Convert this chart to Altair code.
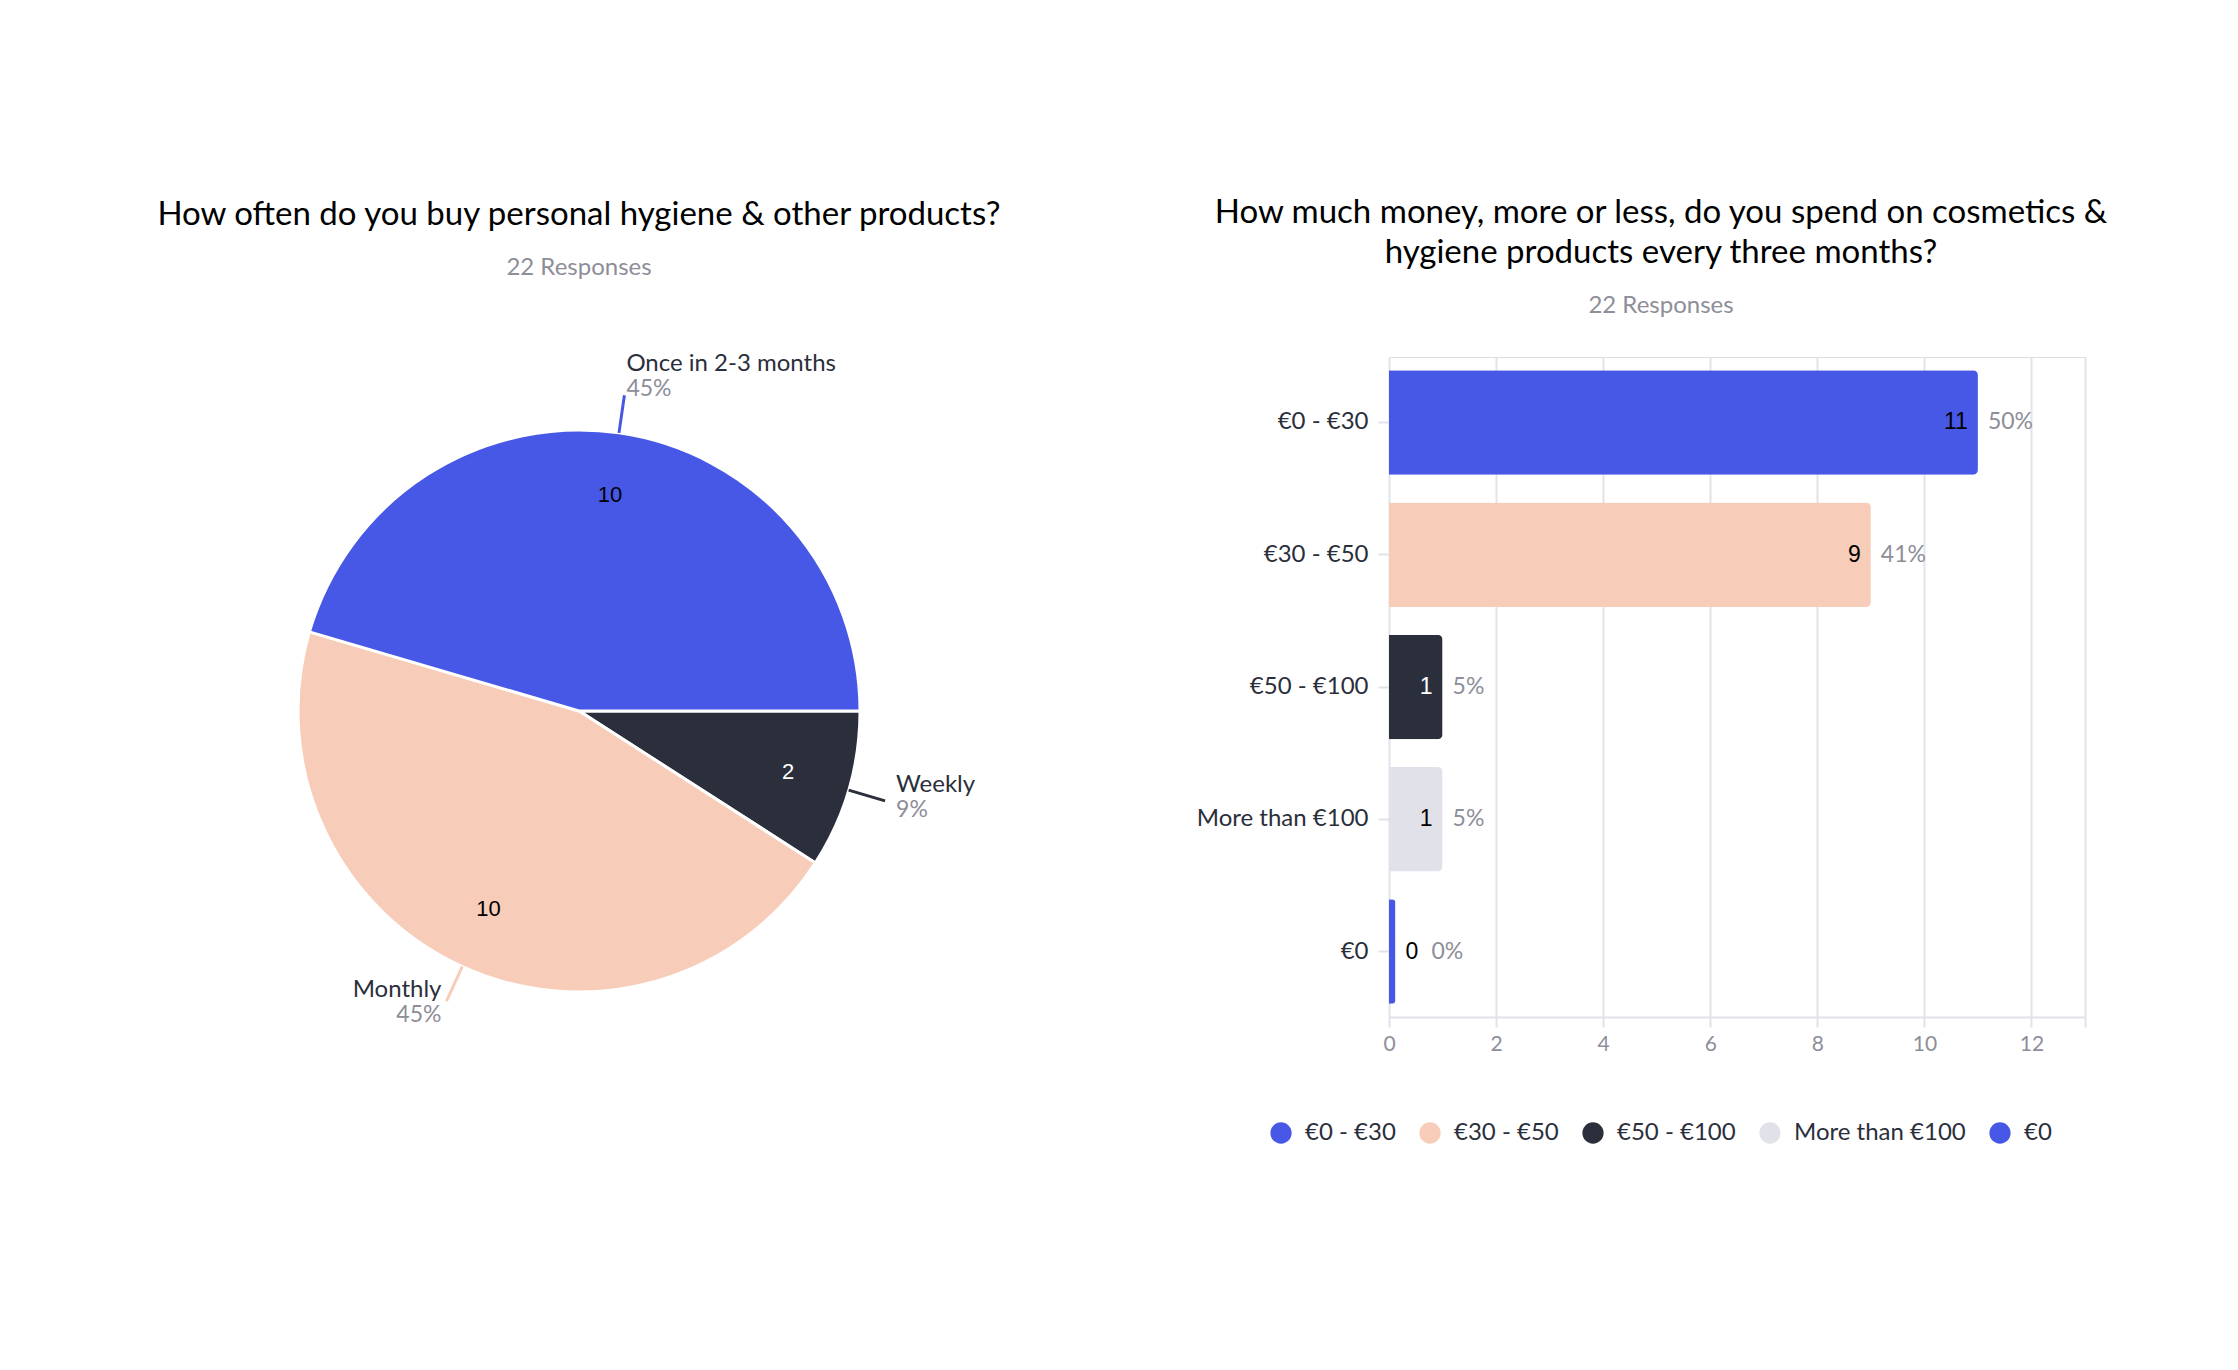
import math
import altair as alt
import pandas as pd

# ---------------- data ----------------
freq_labels = ["Weekly", "Monthly", "Once in 2-3 months"]
freq_counts = [2, 10, 10]
freq_order = [0, 1, 2]
freq_colors = ["#2a2f3b", "#f7cdb9", "#4858e6"]

spend_labels = ["€0 - €30", "€30 - €50", "€50 - €100", "More than €100", "€0"]
spend_counts = [11, 9, 1, 1, 0]
spend_colors = ["#4858e6", "#f7cdb9", "#2a2f3b", "#e1e1ea", "#4858e6"]

x_tick_values = [0, 2, 4, 6, 8, 10, 12, 13]

pie_title = "How often do you buy personal hygiene & other products?"
bar_title = ["How much money, more or less, do you spend on cosmetics &",
             "hygiene products every three months?"]
subtitle = "22 Responses"

FONT = "Lato"
NUMFONT = "Liberation Sans"
DARK = "#2a2f3b"
GREY = "#8e8e99"
LS = 24  # label font size

title_style = dict(font=FONT, fontSize=33, fontWeight="normal", color="#000000",
                   lineHeight=40, anchor="middle", subtitleFont=FONT,
                   subtitleFontSize=24, subtitleColor=GREY, subtitleFontWeight="normal",
                   subtitlePadding=24)

# ---------------- pie ----------------
R = 281
pie_df = pd.DataFrame({"answer": freq_labels, "count": freq_counts, "order": freq_order})

pbase = alt.Chart(pie_df).transform_joinaggregate(
    total="sum(count)"
).transform_calculate(
    pct="round(datum.count / datum.total * 100) + '%'"
)
theta_scale = alt.Scale(range=[math.pi / 2, math.pi / 2 + 2 * math.pi])
pcolor_scale = alt.Scale(domain=freq_labels, range=freq_colors)

arcs = pbase.mark_arc(outerRadius=R, stroke="white", strokeWidth=3).encode(
    theta=alt.Theta("count:Q", stack=True, scale=theta_scale),
    order=alt.Order("order:Q"),
    color=alt.Color("answer:N", scale=pcolor_scale, legend=None),
)

inner = pbase.mark_text(radius=218, fontSize=22, font=NUMFONT, baseline="middle").encode(
    theta=alt.Theta("count:Q", stack=True, scale=theta_scale),
    order=alt.Order("order:Q"),
    text="count:Q",
    color=alt.condition("datum.answer == 'Weekly'", alt.value("white"), alt.value("black")),
)

mids = pbase.transform_window(
    cum="sum(count)", sort=[alt.SortField("order")], frame=[None, 0]
).transform_calculate(mid="datum.cum - datum.count / 2")

leaders = mids.mark_arc(innerRadius=R, outerRadius=R + 38, filled=False, strokeWidth=3).encode(
    theta=alt.Theta("mid:Q", stack=False, scale=theta_scale),
    theta2="mid:Q",
    stroke=alt.Stroke("answer:N", scale=pcolor_scale, legend=None),
)

label_style = {
    "Once in 2-3 months": ("left", 2, -31, -6),
    "Weekly": ("left", 11, -16, 9),
    "Monthly": ("right", -5, -11, 14),
}
label_layers = []
for name, (al, dx, dy_name, dy_pct) in label_style.items():
    sel = mids.transform_filter(alt.datum.answer == name)
    label_layers.append(
        sel.mark_text(radius=R + 38, align=al, dx=dx, dy=dy_name, fontSize=LS,
                      font=FONT, color=DARK, baseline="middle").encode(
            theta=alt.Theta("mid:Q", stack=False, scale=theta_scale), text="answer:N")
    )
    label_layers.append(
        sel.mark_text(radius=R + 38, align=al, dx=dx, dy=dy_pct, fontSize=LS - 1,
                      font=FONT, color=GREY, baseline="middle").encode(
            theta=alt.Theta("mid:Q", stack=False, scale=theta_scale), text="pct:N")
    )

pie = alt.layer(arcs, inner, leaders, *label_layers).properties(
    width=1132, height=708,
    title=alt.TitleParams(pie_title, subtitle=subtitle, offset=72, **title_style),
)

# ---------------- bars ----------------
bar_df = pd.DataFrame({"range": spend_labels, "count": spend_counts})
bbase = alt.Chart(bar_df).transform_joinaggregate(
    total="sum(count)"
).transform_calculate(
    pct="round(datum.count / datum.total * 100) + '%'",
    shown="max(datum.count, 0.12)",
)

y_enc = alt.Y(
    "range:N", sort=spend_labels,
    scale=alt.Scale(paddingInner=0.21, paddingOuter=0.1),
    axis=alt.Axis(title=None, domain=False, ticks=True, tickColor="#e1e1ea", tickSize=11,
                  tickWidth=2, labelPadding=10, labelFontSize=LS, labelColor=DARK,
                  labelFont=FONT, grid=False, labelLimit=400),
)
x_enc = alt.X(
    "shown:Q",
    scale=alt.Scale(domain=[0, 13], nice=False),
    axis=alt.Axis(title=None, values=x_tick_values, labelFlush=False,
                  labelExpr="datum.value == 13 ? '' : datum.label",
                  grid=True, gridColor="#e3e3eb", gridWidth=2,
                  domainColor="#e1e1ea", domainWidth=2,
                  tickColor="#e1e1ea", tickSize=10, tickWidth=2,
                  labelFontSize=21, labelColor=GREY, labelFont=FONT, labelPadding=6),
)

bars = bbase.mark_bar(cornerRadiusEnd=5).encode(
    y=y_enc, x=x_enc,
    color=alt.Color(
        "range:N", sort=spend_labels,
        scale=alt.Scale(domain=spend_labels, range=spend_colors),
        legend=alt.Legend(title=None, orient="none", legendX=-120, legendY=764,
                          direction="horizontal", symbolType="circle", symbolSize=452,
                          labelFontSize=LS, labelFont=FONT, labelColor=DARK,
                          labelOffset=12, columnPadding=22, symbolStrokeWidth=0,
                          labelLimit=400),
    ),
)

val_nz = bbase.transform_filter("datum.count > 0").mark_text(
    align="right", dx=-10, fontSize=23, font=NUMFONT, baseline="middle").encode(
    y=alt.Y("range:N", sort=spend_labels), x="shown:Q", text="count:Q",
    color=alt.condition("datum.range == '€50 - €100'", alt.value("white"), alt.value("black")),
)
val_z = bbase.transform_filter("datum.count == 0").mark_text(
    align="left", dx=10, fontSize=23, font=NUMFONT, baseline="middle", color="black").encode(
    y=alt.Y("range:N", sort=spend_labels), x="shown:Q", text="count:Q",
)
pct_nz = bbase.transform_filter("datum.count > 0").mark_text(
    align="left", dx=10, fontSize=LS - 1, font=FONT, baseline="middle", color=GREY).encode(
    y=alt.Y("range:N", sort=spend_labels), x="shown:Q", text="pct:N",
)
pct_z = bbase.transform_filter("datum.count == 0").mark_text(
    align="left", dx=36, fontSize=LS - 1, font=FONT, baseline="middle", color=GREY).encode(
    y=alt.Y("range:N", sort=spend_labels), x="shown:Q", text="pct:N",
)

bar = alt.layer(bars, val_nz, val_z, pct_nz, pct_z).properties(
    width=696, height=660,
    title=alt.TitleParams(bar_title, subtitle=subtitle, offset=39, dx=-76, **title_style),
)

chart = alt.hconcat(pie, bar, spacing=50).resolve_scale(
    color="independent", stroke="independent", theta="independent"
).properties(
    padding={"left": 5, "top": 188, "right": 5, "bottom": 5}
).configure_view(stroke=None).configure(background="white")

chart.save("out.html", embed_options={"renderer": "svg", "actions": False})
